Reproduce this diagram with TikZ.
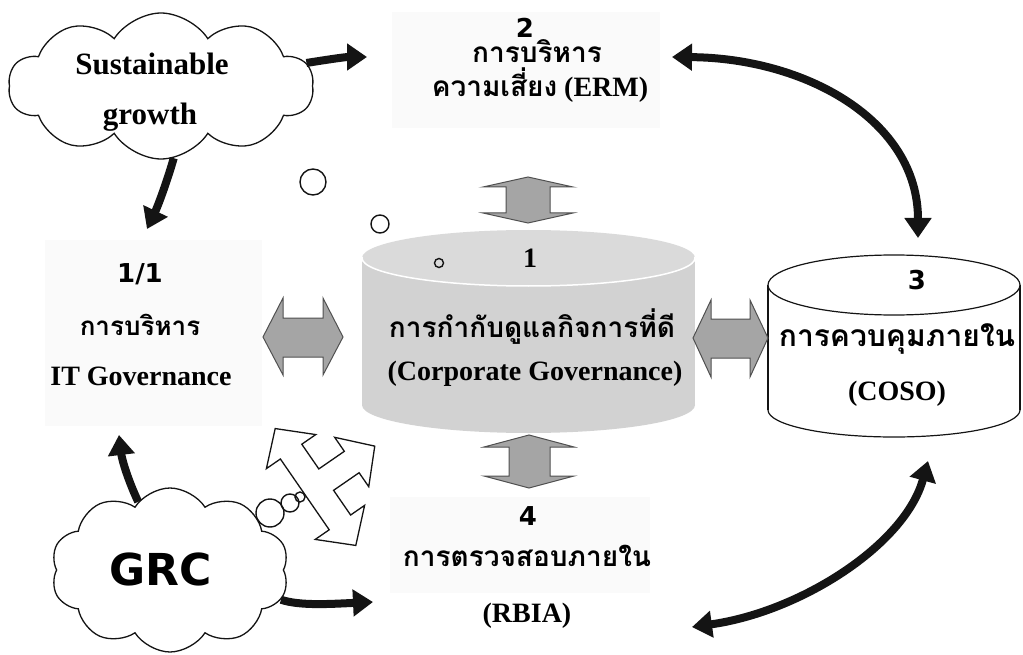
\documentclass[tikz,border=0pt]{standalone}
\usepackage{fontspec}
\setmainfont{Liberation Serif}
\newfontfamily\thai[Script=Thai]{Loma}
\newfontfamily\vsans{DejaVu Sans}
\usetikzlibrary{arrows.meta,shapes.symbols}

\definecolor{cylfill}{RGB}{210,210,210}
\definecolor{cyltop}{RGB}{218,218,218}
\definecolor{blockgray}{RGB}{165,165,165}
\definecolor{blockedge}{RGB}{80,80,80}
\definecolor{haze}{RGB}{250,250,250}
\definecolor{ink}{RGB}{20,20,20}

\tikzset{
  lat/.style={font=\fontsize{28}{30}\selectfont\bfseries, inner sep=0pt, anchor=base},
  thaitext/.style={font=\thai\bfseries\fontsize{28}{30}\selectfont, inner sep=0pt, anchor=base},
  numtext/.style={font=\vsans\bfseries\fontsize{26}{28}\selectfont, inner sep=0pt, anchor=base},
  thick arrow/.style={ink, line width=8pt, -{Triangle[width=26pt,length=20pt]}},
  twin arrow/.style={ink, line width=8pt, {Triangle[width=26pt,length=20pt]}-{Triangle[width=26pt,length=20pt]}},
  block arrow/.style={fill=blockgray, draw=blockedge, line width=1pt, line join=miter},
  bubble/.style={draw=ink, line width=1.4pt},
  cloudbox/.style={cloud, draw=ink, fill=white, line width=1.3pt, cloud puffs=10, cloud puff arc=115, inner sep=0pt},
}

\begin{document}
\begin{tikzpicture}[x=1pt, y=-1pt]
\useasboundingbox (0,0) rectangle (1023,655);

% faint panels behind the side labels
\fill[haze] (392,12) rectangle (660,128);
\fill[haze] (45,240) rectangle (262,426);
\fill[haze] (390,497) rectangle (650,593);

% --- central cylinder (corporate governance) ---
\fill[cylfill] (528.5,405) ellipse [x radius=166.5pt, y radius=28pt];
\fill[cylfill] (362,258) rectangle (695,405);
\fill[cyltop] (528.5,258) ellipse [x radius=166.5pt, y radius=28pt];
\begin{scope}
  \clip (355,258) rectangle (700,300);
  \draw[white, line width=1.5pt] (528.5,258) ellipse [x radius=166.5pt, y radius=28pt];
\end{scope}

% --- right cylinder (internal control) ---
\fill[white] (768,285) rectangle (1020,410);
\draw[ink, line width=1.2pt] (768,285) -- (768,410);
\draw[ink, line width=1.2pt] (1020,285) -- (1020,410);
\begin{scope}
  \clip (760,410) rectangle (1023,450);
  \draw[ink, line width=1.2pt] (894,410) ellipse [x radius=126pt, y radius=27pt];
\end{scope}
\draw[ink, line width=1.2pt, fill=white] (894,285) ellipse [x radius=126pt, y radius=30pt];

% --- grey two-headed block arrows round the centre ---
\draw[block arrow] (528,177) -- (573,187) -- (550,187) -- (550,213) -- (573,213)
  -- (528,223) -- (483,213) -- (506,213) -- (506,187) -- (483,187) -- cycle;
\draw[block arrow] (529,435) -- (574,447) -- (550,447) -- (550,476) -- (574,476)
  -- (529,488) -- (484,476) -- (509,476) -- (509,447) -- (484,447) -- cycle;
\draw[block arrow] (263,337) -- (283,298) -- (283,318) -- (323,318) -- (323,298)
  -- (343,337) -- (323,375) -- (323,357) -- (283,357) -- (283,375) -- cycle;
\draw[block arrow] (693,338) -- (711,300) -- (711,319) -- (750,319) -- (750,300)
  -- (768,338) -- (750,377) -- (750,358) -- (711,358) -- (711,377) -- cycle;

% --- clouds ---
\node[cloudbox, aspect=2.05, minimum width=305pt, minimum height=146pt] (sgcloud) at (161,86) {};
\node[cloudbox, aspect=1.4, minimum width=238pt, minimum height=164pt] (grccloud) at (170,570) {};

% --- labels ---
\node[lat, font=\fontsize{31}{33}\selectfont\bfseries] (sg1) at (152,75) {Sustainable};
\node[lat, font=\fontsize{31}{33}\selectfont\bfseries] (sg2) at (150,125) {growth};
\node[numtext, font=\vsans\bfseries\fontsize{44}{46}\selectfont] (grc) at (161,585) {GRC};

\node[numtext] (n2) at (525,38) {2};
\node[thaitext] (erm1) at (537,63) {การบริหาร};
\node[lat] (erm2) at (540,97) {{\thai ความเสี่ยง} (ERM)};

\node[numtext] (n11) at (140,282) {1/1};
\node[thaitext, font=\thai\bfseries\fontsize{26}{28}\selectfont] (it1) at (140,335) {การบริหาร};
\node[lat] (it2) at (141,385) {IT Governance};

\node[lat] (n1) at (530,268) {1};
\node[thaitext] (cg1) at (532,337) {การกำกับดูแลกิจการที่ดี};
\node[lat] (cg2) at (535,380) {(Corporate Governance)};

\node[numtext] (n3) at (917,290) {3};
\node[thaitext, font=\thai\bfseries\fontsize{30}{32}\selectfont] (coso1) at (897,346) {การควบคุมภายใน};
\node[lat] (coso2) at (897,400) {(COSO)};

\node[numtext] (n4) at (528,525) {4};
\node[thaitext] (rbia1) at (527,566) {การตรวจสอบภายใน};
\node[lat] (rbia2) at (527,622) {(RBIA)};

% --- thought bubbles ---
\draw[bubble] (313,182) circle[radius=13pt];
\draw[bubble] (380,224) circle[radius=9pt];
\draw[bubble] (439,263) circle[radius=4.5pt];

% --- three-way outline arrow beside the GRC cloud ---
\begin{scope}[shift={(315.5pt,-487pt)}, rotate=34.6, x=1pt, y=1pt]
  \draw[ink, fill=white, line width=1.3pt, line join=miter]
    (0,71) -- (-30,43) -- (-13,43) -- (-13,-43) -- (-30,-43) -- (0,-71)
    -- (30,-43) -- (13,-43) -- (13,-13) -- (44,-13) -- (44,-30) -- (72,0)
    -- (44,30) -- (44,13) -- (13,13) -- (13,43) -- (30,43) -- cycle;
\end{scope}
\draw[bubble] (270,513) circle[radius=14pt];
\draw[bubble] (290,503) circle[radius=9pt];
\draw[bubble] (300,497) circle[radius=5pt];

% --- arrow end points ---
\coordinate (ermIn) at (367,57);
\coordinate (itTop) at (147,229);
\coordinate (itBot) at (119,435);
\coordinate (rbiaIn) at (373,602);
\coordinate (ermOut) at (672,57);
\coordinate (cosoTop) at (918,238);
\coordinate (rbiaOut) at (692,627);
\coordinate (cosoBot) at (928,461);

% --- black connectors ---
\draw[thick arrow] (sgcloud.9) .. controls (325,60) and (345,57) .. (ermIn);
\draw[thick arrow] (sgcloud.-80) .. controls (166,185) and (157,208) .. (itTop);
\draw[thick arrow] (grccloud.115) .. controls (128,480) and (122,460) .. (itBot);
\draw[thick arrow] (grccloud.-15) .. controls (300,606) and (330,604) .. (rbiaIn);
\draw[twin arrow] (ermOut) .. controls (805,58) and (918,120) .. (cosoTop);
\draw[twin arrow] (rbiaOut) .. controls (800,612) and (905,545) .. (cosoBot);

\end{tikzpicture}
\end{document}
